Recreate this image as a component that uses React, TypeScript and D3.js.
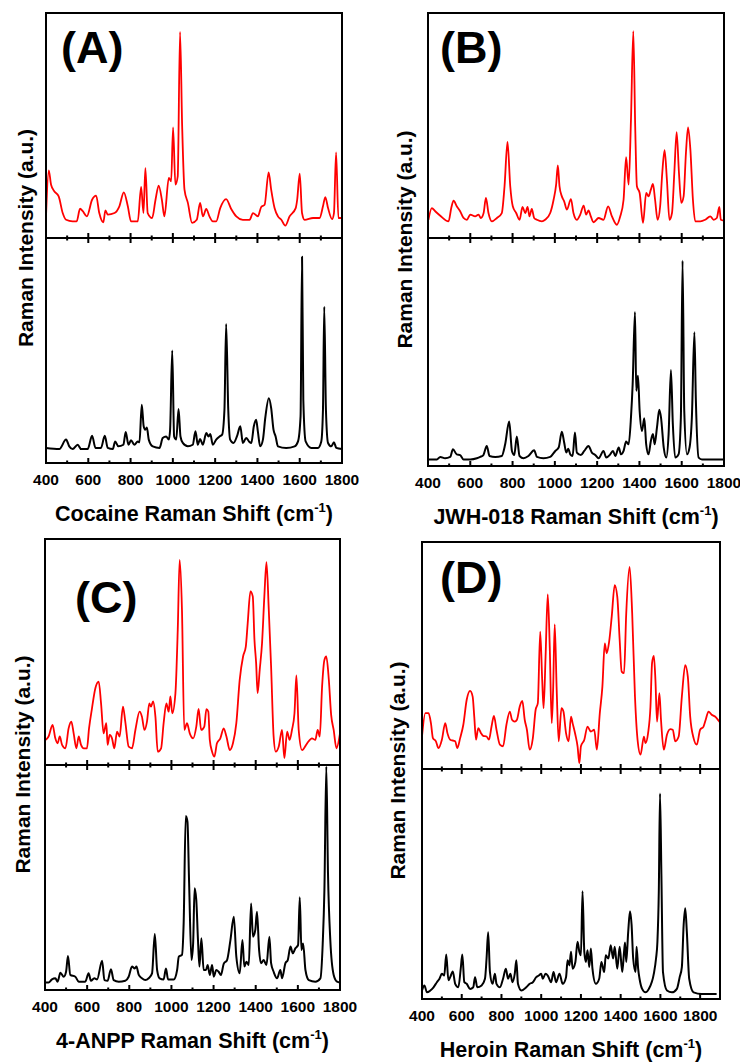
import React from "react";
import * as d3 from "d3";

// ---------- DATA (wavenumber cm^-1, relative intensity a.u.) ----------
const cocaineSers: [number, number][] = [
  [400, 9.6], [413, 30.1], [424, 23.7], [440, 20.7], [460, 18.5], [479, 11.1], [495, 8.1], [526, 7.4], [545, 7.4],
  [561, 13.0], [574, 11.9], [593, 9.6], [618, 17.0], [637, 18.8], [652, 11.1], [671, 7.0], [681, 12.3], [692, 10.4],
  [724, 11.1], [747, 14.1], [768, 20.3], [787, 14.1], [802, 7.4], [834, 7.4], [850, 22.7], [861, 11.1], [870, 31.1],
  [881, 11.1], [902, 8.9], [918, 17.0], [933, 23.3], [948, 17.0], [960, 9.6], [981, 26.7], [992, 25.2], [1001, 49.2],
  [1012, 23.7], [1023, 27.4], [1034, 91.6], [1044, 49.6], [1055, 21.5], [1071, 15.6], [1091, 6.7], [1113, 8.1],
  [1129, 15.6], [1142, 9.6], [1158, 12.9], [1173, 9.6], [1189, 7.4], [1205, 7.4], [1224, 13.3], [1252, 17.3],
  [1276, 12.9], [1300, 9.6], [1331, 8.1], [1363, 8.1], [1379, 11.1], [1402, 9.6], [1418, 13.8], [1434, 14.8],
  [1453, 29.2], [1465, 21.5], [1481, 13.3], [1497, 9.6], [1513, 8.1], [1532, 5.5], [1552, 9.6], [1581, 13.3],
  [1588, 17.0], [1600, 28.6], [1611, 11.1], [1623, 8.1], [1663, 8.9], [1694, 8.9], [1710, 14.1], [1721, 18.2],
  [1734, 13.3], [1753, 8.4], [1762, 11.1], [1772, 38.1], [1783, 8.9], [1800, 8.9],
];
const cocaineRef: [number, number][] = [
  [400, 6.7], [463, 6.2], [495, 10.4], [510, 7.4], [526, 6.2], [550, 8.1], [566, 6.2], [597, 6.2], [618, 12.1],
  [634, 6.7], [660, 6.7], [678, 12.1], [692, 6.7], [716, 6.2], [727, 9.6], [742, 7.4], [766, 8.1], [777, 13.8],
  [790, 8.1], [802, 10.1], [818, 8.1], [834, 9.6], [842, 9.2], [853, 25.9], [862, 16.3], [869, 14.8], [877, 15.8],
  [886, 10.4], [905, 7.4], [937, 6.7], [952, 11.1], [968, 11.8], [981, 10.4], [987, 14.8], [997, 50.0], [1006, 11.8],
  [1016, 10.4], [1027, 24.0], [1036, 11.8], [1047, 8.9], [1071, 7.4], [1094, 8.1], [1107, 14.1], [1118, 8.1],
  [1129, 10.7], [1142, 8.1], [1158, 13.3], [1169, 11.8], [1177, 12.9], [1189, 8.1], [1205, 10.4], [1221, 11.8],
  [1233, 12.6], [1244, 23.7], [1252, 61.8], [1262, 23.7], [1271, 10.4], [1287, 8.9], [1303, 11.8], [1319, 16.3],
  [1331, 8.9], [1347, 11.1], [1360, 9.6], [1371, 8.9], [1383, 16.3], [1394, 19.2], [1402, 14.1], [1413, 7.4],
  [1426, 10.4], [1437, 20.0], [1454, 28.8], [1465, 24.4], [1476, 14.8], [1486, 11.8], [1497, 7.4], [1536, 6.7],
  [1576, 7.4], [1592, 9.6], [1604, 20.7], [1611, 91.7], [1617, 28.1], [1628, 9.6], [1655, 6.7], [1686, 6.7],
  [1702, 9.6], [1710, 23.7], [1716, 69.5], [1724, 23.7], [1734, 8.9], [1749, 7.4], [1762, 9.2], [1773, 6.7], [1800, 6.2],
];
const jwhSers: [number, number][] = [
  [402, 8.1], [418, 13.3], [434, 11.9], [458, 9.9], [497, 7.4], [510, 13.3], [521, 16.6], [536, 14.1], [552, 11.9],
  [568, 8.9], [584, 8.1], [600, 10.4], [623, 9.6], [639, 10.4], [650, 8.9], [663, 11.1], [674, 17.8], [686, 11.1],
  [702, 7.4], [726, 8.9], [749, 11.1], [762, 23.0], [776, 42.7], [789, 23.0], [801, 14.1], [817, 11.1], [833, 8.1],
  [847, 13.8], [860, 11.1], [871, 13.8], [880, 9.6], [891, 12.9], [902, 8.9], [915, 8.1], [939, 7.4], [954, 8.1],
  [978, 11.1], [994, 17.0], [1006, 23.7], [1014, 32.3], [1022, 23.0], [1033, 18.5], [1044, 16.3], [1057, 12.6],
  [1076, 17.3], [1088, 11.1], [1104, 8.1], [1120, 10.4], [1136, 14.4], [1148, 10.4], [1159, 12.3], [1170, 9.6],
  [1183, 7.0], [1207, 8.9], [1230, 8.1], [1252, 14.1], [1270, 9.6], [1293, 5.9], [1309, 9.6], [1325, 17.0],
  [1337, 35.9], [1349, 23.7], [1360, 52.6], [1371, 91.9], [1380, 49.6], [1388, 23.0], [1401, 20.0], [1417, 6.7],
  [1432, 20.0], [1443, 18.5], [1454, 21.5], [1464, 24.0], [1474, 17.0], [1486, 8.1], [1498, 14.1], [1508, 28.9],
  [1519, 39.0], [1530, 25.9], [1542, 8.1], [1554, 11.1], [1565, 28.9], [1576, 47.1], [1587, 28.9], [1598, 15.6],
  [1609, 18.5], [1620, 37.8], [1630, 49.2], [1641, 39.3], [1653, 17.0], [1664, 7.4], [1688, 7.4], [1711, 8.1],
  [1735, 9.6], [1751, 8.1], [1766, 8.9], [1778, 13.8], [1785, 8.1], [1800, 7.7],
];
const jwhRef: [number, number][] = [
  [402, 2.9], [442, 2.9], [458, 4.0], [481, 3.4], [505, 4.0], [518, 7.3], [536, 5.1], [552, 4.8], [568, 2.9],
  [600, 2.9], [631, 3.4], [647, 4.0], [662, 4.8], [678, 8.8], [691, 4.4], [718, 4.0], [749, 4.4], [765, 9.5],
  [784, 19.5], [797, 6.6], [808, 4.8], [820, 12.9], [833, 4.4], [852, 3.4], [875, 4.4], [902, 6.9], [915, 4.0],
  [946, 3.4], [978, 4.0], [1002, 6.6], [1018, 8.1], [1033, 15.0], [1044, 10.3], [1054, 5.9], [1063, 7.6],
  [1073, 5.1], [1084, 4.4], [1095, 14.7], [1104, 5.9], [1123, 4.8], [1139, 6.6], [1159, 8.8], [1175, 5.9],
  [1191, 4.8], [1207, 3.4], [1230, 6.6], [1243, 3.7], [1262, 5.1], [1275, 6.6], [1286, 4.4], [1302, 8.1],
  [1313, 5.1], [1325, 6.6], [1337, 10.7], [1349, 9.5], [1360, 21.3], [1368, 36.0], [1379, 67.5], [1385, 33.0],
  [1393, 39.6], [1401, 24.2], [1412, 15.4], [1423, 20.9], [1432, 9.5], [1443, 5.1], [1454, 11.0], [1464, 14.0],
  [1472, 9.5], [1483, 16.9], [1494, 24.7], [1502, 21.3], [1515, 8.1], [1527, 3.7], [1538, 14.0], [1549, 42.1],
  [1558, 18.4], [1569, 3.7], [1585, 5.1], [1596, 21.3], [1604, 90.0], [1612, 24.2], [1625, 5.1], [1637, 8.1],
  [1648, 21.3], [1660, 58.7], [1667, 28.6], [1680, 3.7], [1696, 2.9], [1800, 2.9],
];
const anppSers: [number, number][] = [
  [402, 11.1], [417, 12.6], [436, 17.7], [449, 11.8], [460, 9.6], [470, 12.6], [481, 8.9], [497, 7.4], [512, 16.2],
  [525, 19.2], [536, 14.0], [549, 7.4], [560, 12.6], [571, 8.9], [584, 7.4], [599, 7.4], [609, 16.2], [623, 25.1],
  [639, 34.0], [655, 36.9], [666, 27.3], [678, 14.0], [691, 18.5], [697, 8.9], [707, 13.3], [718, 11.8], [729, 7.4],
  [742, 14.8], [754, 12.6], [770, 25.8], [781, 19.2], [797, 8.1], [813, 7.4], [829, 15.5], [849, 23.6], [860, 21.4],
  [872, 15.5], [884, 19.2], [895, 27.3], [903, 25.8], [913, 28.1], [924, 21.4], [935, 5.9], [951, 7.4], [963, 18.5],
  [976, 27.3], [987, 23.6], [995, 30.3], [1004, 22.9], [1019, 31.8], [1030, 59.8], [1039, 90.8], [1050, 68.7],
  [1061, 15.5], [1074, 18.5], [1087, 14.0], [1103, 11.8], [1118, 17.0], [1129, 24.8], [1141, 15.5], [1156, 17.0],
  [1166, 24.7], [1175, 23.6], [1182, 11.1], [1193, 5.9], [1204, 3.7], [1216, 9.6], [1232, 11.8], [1248, 16.2],
  [1261, 12.6], [1277, 6.6], [1292, 9.6], [1308, 18.5], [1324, 37.7], [1340, 48.0], [1353, 52.4], [1362, 62.8],
  [1375, 76.8], [1386, 74.6], [1394, 55.4], [1402, 45.1], [1409, 31.8], [1419, 42.1], [1430, 53.9], [1441, 74.6],
  [1451, 89.8], [1462, 68.7], [1473, 43.6], [1485, 12.6], [1495, 5.9], [1509, 8.1], [1525, 15.5], [1536, 3.0],
  [1549, 14.8], [1561, 11.1], [1572, 15.5], [1584, 22.9], [1593, 39.6], [1604, 15.5], [1620, 6.6], [1644, 9.6],
  [1667, 11.8], [1683, 11.1], [1694, 15.5], [1704, 12.6], [1715, 34.7], [1726, 46.5], [1735, 48.0], [1747, 37.7],
  [1758, 22.2], [1770, 15.5], [1783, 7.4], [1800, 14.0],
];
const anppRef: [number, number][] = [
  [402, 3.3], [417, 3.3], [433, 4.7], [449, 5.2], [460, 3.7], [473, 7.7], [489, 5.9], [500, 8.1], [509, 15.1],
  [520, 6.7], [544, 5.9], [560, 3.7], [591, 3.7], [607, 7.4], [618, 4.1], [634, 5.2], [647, 4.7], [671, 13.0],
  [682, 4.4], [697, 4.1], [713, 9.2], [726, 4.4], [750, 3.7], [781, 4.1], [797, 5.9], [813, 10.4], [826, 9.6],
  [834, 10.4], [845, 6.7], [860, 5.2], [876, 4.4], [892, 5.2], [908, 7.4], [921, 24.9], [932, 8.9], [944, 5.2],
  [963, 4.7], [974, 9.6], [984, 4.7], [1011, 4.7], [1027, 8.9], [1035, 14.8], [1050, 15.6], [1058, 29.6],
  [1068, 77.3], [1076, 74.8], [1084, 47.4], [1095, 13.3], [1103, 20.7], [1110, 45.2], [1118, 40.0], [1126, 22.2],
  [1133, 10.4], [1142, 23.0], [1153, 8.9], [1164, 8.9], [1172, 11.1], [1182, 6.7], [1193, 11.1], [1201, 5.9],
  [1213, 8.9], [1224, 8.1], [1235, 6.7], [1248, 11.6], [1264, 13.3], [1280, 22.2], [1296, 32.6], [1308, 14.8],
  [1324, 7.4], [1337, 22.2], [1346, 10.4], [1356, 12.6], [1367, 11.1], [1378, 38.5], [1387, 23.7], [1398, 26.7],
  [1406, 34.8], [1416, 17.8], [1425, 11.9], [1438, 13.3], [1451, 11.1], [1465, 23.7], [1473, 11.9], [1485, 8.1],
  [1501, 5.2], [1517, 8.9], [1525, 5.2], [1541, 11.9], [1552, 13.3], [1565, 19.3], [1576, 16.3], [1588, 18.5],
  [1601, 20.0], [1609, 41.2], [1617, 17.8], [1625, 20.7], [1636, 8.9], [1652, 4.4], [1683, 3.7], [1707, 5.2],
  [1718, 20.7], [1726, 44.4], [1735, 99.3], [1743, 51.9], [1754, 22.2], [1770, 6.7], [1786, 3.7], [1800, 3.3],
];
const heroinSers: [number, number][] = [
  [400, 14.3], [417, 24.6], [433, 24.6], [445, 20.2], [455, 13.6], [470, 12.2], [483, 9.2], [500, 12.9], [517, 20.2],
  [528, 15.8], [542, 12.9], [567, 12.2], [578, 9.2], [592, 13.6], [608, 19.5], [625, 30.5], [642, 34.4], [655, 31.9],
  [663, 23.1], [672, 12.9], [683, 18.0], [697, 15.8], [708, 14.6], [725, 14.3], [737, 12.9], [750, 18.7], [762, 23.4],
  [775, 17.3], [792, 10.7], [808, 10.0], [825, 19.5], [842, 25.3], [853, 21.7], [867, 20.9], [878, 21.7], [892, 27.5],
  [905, 30.0], [917, 21.7], [928, 17.3], [942, 8.5], [958, 13.6], [972, 26.1], [983, 29.0], [995, 60.5], [1005, 39.2],
  [1012, 26.8], [1022, 49.5], [1033, 76.9], [1043, 53.9], [1053, 20.2], [1060, 34.8], [1068, 63.7], [1078, 34.8],
  [1088, 12.2], [1102, 26.8], [1112, 25.3], [1125, 15.8], [1138, 12.2], [1150, 23.1], [1158, 20.2], [1172, 15.1],
  [1183, 10.0], [1192, 2.6], [1200, 10.0], [1217, 12.9], [1233, 18.7], [1250, 16.5], [1267, 17.3], [1280, 8.5],
  [1295, 24.6], [1308, 36.3], [1320, 55.3], [1330, 51.0], [1342, 56.1], [1355, 67.1], [1370, 81.0], [1383, 75.8],
  [1395, 56.8], [1405, 42.9], [1417, 42.2], [1428, 68.5], [1445, 89.0], [1458, 68.5], [1472, 31.9], [1485, 12.9],
  [1500, 6.3], [1517, 14.3], [1525, 11.4], [1538, 15.8], [1550, 27.5], [1558, 46.6], [1567, 49.8], [1575, 39.2],
  [1583, 20.9], [1595, 33.4], [1603, 21.7], [1617, 8.5], [1633, 15.1], [1650, 17.6], [1662, 17.3], [1675, 12.2],
  [1692, 14.3], [1708, 31.9], [1725, 45.8], [1738, 40.7], [1750, 23.1], [1767, 13.6], [1783, 10.7], [1800, 17.3],
  [1817, 18.7], [1828, 21.7], [1842, 25.3], [1858, 23.9], [1875, 23.1], [1892, 21.4], [1900, 20.5],
];
const heroinRef: [number, number][] = [
  [400, 3.7], [412, 5.9], [425, 2.9], [442, 3.7], [458, 5.1], [475, 7.3], [488, 8.8], [500, 11.0], [512, 10.2],
  [522, 19.3], [533, 8.1], [542, 9.5], [555, 12.0], [567, 6.6], [583, 5.1], [595, 13.2], [603, 19.3], [613, 7.3],
  [625, 6.6], [642, 4.4], [658, 5.1], [667, 9.5], [678, 5.1], [700, 5.9], [717, 8.8], [725, 17.6], [733, 29.0],
  [742, 11.7], [755, 6.6], [767, 11.0], [775, 6.6], [792, 5.1], [808, 8.8], [822, 13.2], [833, 8.8], [845, 11.0],
  [855, 7.3], [867, 11.0], [875, 16.8], [883, 6.6], [900, 3.7], [925, 5.1], [942, 6.6], [958, 7.3], [975, 9.5],
  [988, 10.2], [1000, 11.0], [1008, 8.8], [1022, 11.0], [1033, 10.2], [1050, 7.3], [1062, 11.7], [1075, 7.3],
  [1092, 11.0], [1108, 6.6], [1125, 9.5], [1133, 16.8], [1142, 14.6], [1150, 20.5], [1158, 13.2], [1172, 16.1],
  [1183, 24.9], [1192, 20.5], [1200, 19.0], [1208, 46.9], [1217, 20.5], [1225, 16.1], [1233, 21.2], [1242, 13.9],
  [1250, 22.0], [1258, 13.2], [1275, 6.6], [1292, 8.8], [1303, 16.1], [1317, 11.7], [1325, 19.0], [1338, 17.6],
  [1350, 23.4], [1362, 17.6], [1370, 22.7], [1383, 13.2], [1395, 22.7], [1408, 11.7], [1417, 20.5], [1422, 24.6],
  [1428, 16.1], [1438, 29.3], [1447, 38.1], [1455, 32.2], [1463, 17.6], [1475, 11.7], [1480, 22.7], [1488, 13.2],
  [1495, 8.8], [1508, 4.4], [1525, 2.9], [1542, 4.4], [1567, 11.0], [1578, 17.6], [1585, 24.9], [1592, 46.9],
  [1598, 89.3], [1605, 54.2], [1613, 11.7], [1633, 3.7], [1658, 2.9], [1683, 4.4], [1697, 9.5], [1708, 13.9],
  [1717, 32.2], [1725, 39.5], [1733, 29.3], [1745, 8.8], [1767, 2.9], [1808, 2.2], [1883, 2.2],
];

const ticks1800 = [400, 600, 800, 1000, 1200, 1400, 1600, 1800];
const minor1800 = [500, 700, 900, 1100, 1300, 1500, 1700];
const minor1900 = [500, 700, 900, 1100, 1300, 1500, 1700, 1900];
const panelLabels = ["(A)", "(B)", "(C)", "(D)"];
const compounds = ["Cocaine", "JWH-018", "4-ANPP", "Heroin"];
const yTitle = "Raman Intensity (a.u.)";

// ---------- LAYOUT ----------
const FONT = "'Liberation Sans', Arial, Helvetica, sans-serif";
const RED = "#ff0000";

type Frame = { left: number; right: number; top: number; mid: number; bottom: number };
type PanelCfg = {
  frame: Frame;
  xMax: number;
  minor: number[];
  sers: [number, number][];
  ref: [number, number][];
  label: string;
  compound: string;
  labelX: number;
  labelY: number;
  yTitleX: number;
};

const panels: PanelCfg[] = [
  { frame: { left: 46, right: 342, top: 13, mid: 238, bottom: 463 }, xMax: 1800, minor: minor1800,
    sers: cocaineSers, ref: cocaineRef, label: panelLabels[0], compound: compounds[0], labelX: 61, labelY: 63, yTitleX: 33 },
  { frame: { left: 428, right: 724, top: 13, mid: 238, bottom: 466 }, xMax: 1800, minor: minor1800,
    sers: jwhSers, ref: jwhRef, label: panelLabels[1], compound: compounds[1], labelX: 440, labelY: 63, yTitleX: 412 },
  { frame: { left: 45, right: 340, top: 539, mid: 765, bottom: 990 }, xMax: 1800, minor: minor1800,
    sers: anppSers, ref: anppRef, label: panelLabels[2], compound: compounds[2], labelX: 75, labelY: 613, yTitleX: 30 },
  { frame: { left: 422, right: 720, top: 542, mid: 769, bottom: 999 }, xMax: 1900, minor: minor1900,
    sers: heroinSers, ref: heroinRef, label: panelLabels[3], compound: compounds[3], labelX: 440, labelY: 593, yTitleX: 405 },
];

function Panel({ cfg }: { cfg: PanelCfg }) {
  const f = cfg.frame;
  const x = d3.scaleLinear().domain([400, cfg.xMax]).range([f.left, f.right]);
  const yTop = d3.scaleLinear().domain([0, 100]).range([f.mid, f.top]);
  const yBot = d3.scaleLinear().domain([0, 100]).range([f.bottom, f.mid]);
  const lineTop = d3.line<[number, number]>().x((d) => x(d[0])).y((d) => yTop(d[1])).curve(d3.curveMonotoneX);
  const lineBot = d3.line<[number, number]>().x((d) => x(d[0])).y((d) => yBot(d[1])).curve(d3.curveMonotoneX);
  const cx = (f.left + f.right) / 2;
  const cy = (f.top + f.bottom) / 2;
  return (
    <g>
      <path d={lineTop(cfg.sers) || ""} fill="none" stroke={RED} strokeWidth={1.8} strokeLinejoin="round" />
      <path d={lineBot(cfg.ref) || ""} fill="none" stroke="#000" strokeWidth={2} strokeLinejoin="round" />
      {/* frame */}
      <rect x={f.left} y={f.top} width={f.right - f.left} height={f.bottom - f.top} fill="none" stroke="#000" strokeWidth={2} />
      <line x1={f.left} x2={f.right} y1={f.mid} y2={f.mid} stroke="#000" strokeWidth={2} />
      {/* divider ticks */}
      {ticks1800.map((t) => (
        <line key={"dm" + t} x1={x(t)} x2={x(t)} y1={f.mid - 5} y2={f.mid + 5} stroke="#000" strokeWidth={2} />
      ))}
      {cfg.minor.map((t) => (
        <line key={"dn" + t} x1={x(t)} x2={x(t)} y1={f.mid - 2.5} y2={f.mid + 2.5} stroke="#000" strokeWidth={2} />
      ))}
      {/* bottom ticks (inward) */}
      {ticks1800.map((t) => (
        <line key={"bm" + t} x1={x(t)} x2={x(t)} y1={f.bottom} y2={f.bottom - 5} stroke="#000" strokeWidth={2} />
      ))}
      {cfg.minor.map((t) => (
        <line key={"bn" + t} x1={x(t)} x2={x(t)} y1={f.bottom} y2={f.bottom - 2.5} stroke="#000" strokeWidth={2} />
      ))}
      {ticks1800.map((t) => (
        <text key={"tl" + t} x={x(t)} y={f.bottom + 22} textAnchor="middle" fontFamily={FONT} fontWeight="bold" fontSize={15.5} fill="#000">
          {t}
        </text>
      ))}
      {/* x title */}
      <text x={cx} y={f.bottom + 58} textAnchor="middle" fontFamily={FONT} fontWeight="bold" fontSize={21.5} fill="#000">
        {cfg.compound} Raman Shift (cm
        <tspan fontSize={13} dy={-9}>-1</tspan>
        <tspan dy={9}>)</tspan>
      </text>
      {/* y title */}
      <text transform={`translate(${cfg.yTitleX},${cy}) rotate(-90)`} textAnchor="middle" fontFamily={FONT} fontWeight="bold" fontSize={21} fill="#000">
        {yTitle}
      </text>
      {/* panel label */}
      <text x={cfg.labelX} y={cfg.labelY} fontFamily={FONT} fontWeight="bold" fontSize={45} fill="#000">
        {cfg.label}
      </text>
    </g>
  );
}

export default function App() {
  return (
    <div style={{ position: "absolute", left: 0, top: 0 }}>
      <svg width={740} height={1062} style={{ display: "block", background: "#fff" }}>
        <rect x={0} y={0} width={740} height={1062} fill="#fff" />
        {panels.map((p, i) => (
          <Panel key={i} cfg={p} />
        ))}
      </svg>
    </div>
  );
}
